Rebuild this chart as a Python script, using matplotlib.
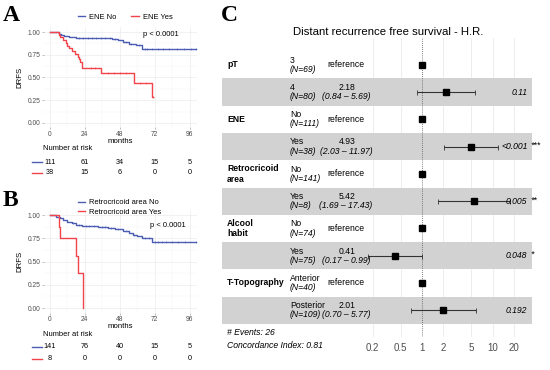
import matplotlib
matplotlib.use('Agg')
import matplotlib.pyplot as plt
from matplotlib.lines import Line2D
from matplotlib.transforms import blended_transform_factory
import numpy as np

plt.rcParams['font.family'] = ['Liberation Sans', 'DejaVu Sans']

BLUE = '#4A5CB4'
RED = '#F2434A'

# ---- panel A: ENE (KM steps)
a_no_t = [0, 6, 8, 10, 13, 18, 43, 47, 50, 54, 59, 63, 100]
a_no_s = [1, 0.98, 0.965, 0.955, 0.945, 0.935, 0.925, 0.91, 0.89, 0.87, 0.855, 0.815, 0.815]
a_no_cens = [20, 23, 26, 29, 32, 35, 38, 41, 45, 52, 56, 61, 65, 67, 70, 74, 78, 82, 87, 92, 97, 100]
a_yes_t = [0, 6, 7, 9, 11, 12, 13, 15, 17, 19, 20, 21, 22, 35, 58, 70, 71]
a_yes_s = [1, 0.97, 0.94, 0.91, 0.88, 0.85, 0.82, 0.79, 0.76, 0.73, 0.70, 0.67, 0.60, 0.545, 0.435, 0.29, 0.29]
a_yes_cens = [28, 31, 40, 44, 48, 52, 62, 66, 71]
a_labels = ['ENE No', 'ENE Yes']
a_risk_no = [111, 61, 34, 15, 5]
a_risk_yes = [38, 15, 6, 0, 0]

# ---- panel B: Retrocricoid area
b_no_t = [0, 4.5, 7, 9, 12, 15, 18, 22, 33, 40, 45, 50, 54, 57, 60, 63, 70, 100]
b_no_s = [1, 0.98, 0.965, 0.95, 0.93, 0.91, 0.895, 0.885, 0.875, 0.86, 0.85, 0.83, 0.81, 0.79, 0.77, 0.75, 0.71, 0.71]
b_no_cens = [16, 20, 25, 27, 30, 36, 38, 42, 47, 52, 58, 65, 68, 72, 74, 77, 80, 84, 88, 93, 100]
b_yes_t = [0, 6, 7, 18, 19.5, 23]
b_yes_s = [1, 0.875, 0.75, 0.5625, 0.375, 0.0]
b_yes_cens = []
b_labels = ['Retrocricoid area No', 'Retrocricoid area Yes']
b_risk_no = [141, 76, 40, 15, 5]
b_risk_yes = [8, 0, 0, 0, 0]

risk_times = [0, 24, 48, 72, 96]

# ---- panel C: forest plot
fp_vars = ['pT', '', 'ENE', '', 'Retrocricoid\narea', '', 'Alcool\nhabit', '', 'T-Topography', '']
fp_levels = ['3', '4', 'No', 'Yes', 'No', 'Yes', 'No', 'Yes', 'Anterior', 'Posterior']
fp_n = [69, 80, 111, 38, 141, 8, 74, 75, 40, 109]
fp_hr = [1, 2.18, 1, 4.93, 1, 5.42, 1, 0.41, 1, 2.01]
fp_lo = [None, 0.84, None, 2.03, None, 1.69, None, 0.17, None, 0.70]
fp_hi = [None, 5.69, None, 11.97, None, 17.43, None, 0.99, None, 5.77]
fp_p = ['', '0.11', '', '<0.001', '', '0.005', '', '0.048', '', '0.192']
fp_stars = ['', '', '', '***', '', '**', '', '*', '', '']
fp_ticks = [0.2, 0.5, 1, 2, 5, 10, 20]

W, H = 550, 370
fig = plt.figure(figsize=(5.5, 3.7), dpi=100)


def fx(px):
    return px / W


def fy(py):
    return 1 - py / H


def step_at(t, s, ct):
    idx = np.searchsorted(t, ct, side='right') - 1
    return np.asarray(s)[idx]


def km_panel(rect, curves, pval_xy):
    ax = fig.add_axes(rect)
    for t, s, cens, col in curves:
        ax.step(t, s, where='post', color=col, lw=1.0, zorder=3)
        if len(cens):
            ax.plot(cens, step_at(t, s, cens), ls='none', marker='+', ms=2.0,
                    mew=0.4, color=col, zorder=3)
    ax.set_xlim(-4, 101)
    ax.set_ylim(-0.05, 1.05)
    ax.set_xticks([0, 24, 48, 72, 96])
    ax.set_xticks([12, 36, 60, 84], minor=True)
    ax.set_yticks([0, 0.25, 0.5, 0.75, 1.0])
    ax.set_yticklabels(['0.00', '0.25', '0.50', '0.75', '1.00'])
    ax.set_yticks([0.125, 0.375, 0.625, 0.875], minor=True)
    ax.grid(True, which='major', color='#EBEBEB', lw=0.5)
    ax.grid(True, which='minor', color='#F4F4F4', lw=0.3)
    ax.set_axisbelow(True)
    for sp in ax.spines.values():
        sp.set_visible(False)
    ax.tick_params(which='major', labelsize=4.8, colors='#8A8A8A', labelcolor='#4D4D4D',
                   length=1.5, width=0.4, pad=1)
    ax.tick_params(which='minor', length=0)
    ax.set_xlabel('months', fontsize=5.6, labelpad=0)
    ax.set_ylabel('DRFS', fontsize=5.6, labelpad=3)
    ax.text(pval_xy[0], pval_xy[1], 'p < 0.0001', fontsize=5.4, ha='left', va='center')
    return ax


def risk_table(ax, title_py, rows_py, risks, cols):
    tr = blended_transform_factory(ax.transData, fig.transFigure)
    fig.text(fx(43), fy(title_py), 'Number at risk', fontsize=5.4, va='center')
    for py, vals, col in zip(rows_py, risks, cols):
        fig.add_artist(Line2D([fx(32), fx(42)], [fy(py), fy(py)], color=col, lw=1.0))
        for t, v in zip(risk_times, vals):
            ax.text(t, fy(py), str(v), transform=tr, fontsize=5.2, ha='center', va='center')


# panel A
axA = km_panel([fx(44), fy(127.5), fx(153), 100 / H],
               [(a_no_t, a_no_s, a_no_cens, BLUE), (a_yes_t, a_yes_s, a_yes_cens, RED)],
               (64, 0.97))
risk_table(axA, 148, [162, 173], [a_risk_no, a_risk_yes], [BLUE, RED])
fig.legend(handles=[Line2D([], [], color=BLUE, lw=1), Line2D([], [], color=RED, lw=1)],
           labels=a_labels, loc='center left', bbox_to_anchor=(fx(74), fy(17)),
           ncol=2, fontsize=5.4, frameon=False, handlelength=1.0, handletextpad=0.5,
           columnspacing=2.0, borderpad=0)

# panel B
axB = km_panel([fx(44), fy(312.7), fx(153), 102.3 / H],
               [(b_no_t, b_no_s, b_no_cens, BLUE), (b_yes_t, b_yes_s, b_yes_cens, RED)],
               (69, 0.89))
risk_table(axB, 335, [347, 359], [b_risk_no, b_risk_yes], [BLUE, RED])
fig.legend(handles=[Line2D([], [], color=BLUE, lw=1), Line2D([], [], color=RED, lw=1)],
           labels=b_labels, loc='center left', bbox_to_anchor=(fx(74), fy(207.5)),
           ncol=1, fontsize=5.4, frameon=False, handlelength=1.0, handletextpad=0.5,
           labelspacing=0.3, borderpad=0)

# panel letters
for lab, px, py in [('A', 3, 21), ('B', 3, 206), ('C', 221, 21)]:
    fig.text(fx(px), fy(py), lab, fontsize=17, fontweight='bold',
             family='Liberation Serif', va='baseline')

# panel C: forest
axC = fig.add_axes([fx(222), fy(337), fx(310), 299 / H])
axC.set_xscale('log')
xmin, xmax = 10 ** (-200 / 70.7), 10 ** (110 / 70.7)
axC.set_xlim(xmin, xmax)
axC.set_ylim(9.98, -0.98)
for sp in axC.spines.values():
    sp.set_visible(False)
axC.set_yticks([])
axC.set_xticks(fp_ticks)
axC.set_xticklabels([str(t) for t in fp_ticks])
axC.xaxis.set_minor_locator(matplotlib.ticker.NullLocator())
axC.tick_params(axis='x', length=0, pad=4, labelsize=7, labelcolor='#4D4D4D')
for t in fp_ticks:
    if t != 1:
        axC.axvline(t, color='#E6E6E6', lw=0.5, zorder=0)
for i in range(len(fp_levels)):
    if i % 2 == 1:
        axC.axhspan(i - 0.5, i + 0.5, color='#D2D2D2', lw=0, zorder=1)
axC.axvline(1, color='#555555', lw=0.6, ls=(0, (1, 1.5)), zorder=2)

rows = np.arange(len(fp_levels))
lo_err = [hr - lo if lo is not None else 0 for hr, lo in zip(fp_hr, fp_lo)]
hi_err = [hi - hr if hi is not None else 0 for hr, hi in zip(fp_hr, fp_hi)]
has_ci = [lo is not None for lo in fp_lo]
ci_rows = rows[has_ci]
axC.errorbar(np.array(fp_hr)[has_ci], ci_rows,
             xerr=[np.array(lo_err)[has_ci], np.array(hi_err)[has_ci]],
             fmt='none', ecolor='#333333', elinewidth=0.8, capsize=1.8, capthick=0.6, zorder=3)
axC.plot(fp_hr, rows, ls='none', marker='s', ms=4.5, color='black', zorder=4)

trC = blended_transform_factory(axC.transAxes, axC.transData)
for i in rows:
    if fp_vars[i]:
        axC.text(0.016, i, fp_vars[i], transform=trC, fontsize=6.2, fontweight='bold',
                 ha='left', va='center', linespacing=1.2)
    axC.text(0.219, i - 0.17, fp_levels[i], transform=trC, fontsize=6.2, ha='left', va='center')
    axC.text(0.219, i + 0.17, '(N=%d)' % fp_n[i], transform=trC, fontsize=6.2,
             style='italic', ha='left', va='center')
    if fp_lo[i] is None:
        axC.text(0.341, i, 'reference', transform=trC, fontsize=6.2, ha='left', va='center')
    else:
        axC.text(0.403, i - 0.17, '%.2f' % fp_hr[i], transform=trC, fontsize=6.2,
                 ha='center', va='center')
        axC.text(0.40, i + 0.17, '(%.2f \u2013 %.2f)' % (fp_lo[i], fp_hi[i]), transform=trC,
                 fontsize=6.2, style='italic', ha='center', va='center')
        axC.text(0.985, i, fp_p[i], transform=trC, fontsize=6.2, style='italic',
                 ha='right', va='center')
        if fp_stars[i]:
            axC.text(0.995, i - 0.05, fp_stars[i], transform=trC, fontsize=6.2,
                     style='italic', ha='left', va='center')

axC.text(0.016, 9.8, '# Events: 26', transform=trC, fontsize=6.2, style='italic',
         ha='left', va='center', clip_on=False)
axC.text(0.016, 10.28, 'Concordance Index: 0.81', transform=trC, fontsize=6.2,
         style='italic', ha='left', va='center', clip_on=False)
fig.text(fx(388), fy(32), 'Distant recurrence free survival - H.R.', fontsize=8.2,
         ha='center', va='center')

fig.savefig('out.png', dpi=100)
